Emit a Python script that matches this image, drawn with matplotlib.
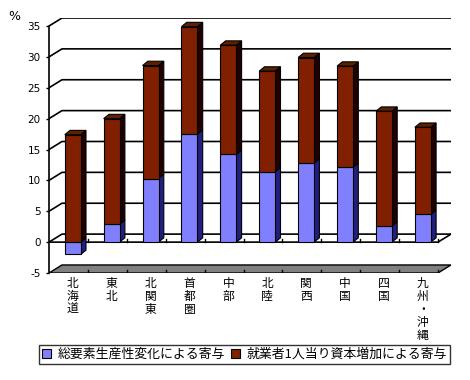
import numpy as np
import matplotlib.pyplot as plt
from matplotlib.patches import Polygon, Patch

plt.rcParams['font.family'] = ['Noto Sans CJK JP', 'DejaVu Sans']

regions = ['北海道', '東北', '北関東', '首都圏', '中部', '北陸', '関西', '中国', '四国', '九州・沖縄']
tfp = [-2.0, 2.9, 10.3, 17.5, 14.2, 11.4, 12.8, 12.1, 2.6, 4.5]
capital = [17.4, 17.1, 18.3, 17.4, 17.7, 16.3, 17.1, 16.4, 18.6, 14.1]
yticks = [-5, 0, 5, 10, 15, 20, 25, 30, 35]
labels = ['総要素生産性変化による寄与', '就業者1人当り資本増加による寄与']

blue, blue_side = '#8080ff', '#202080'
red, red_side, red_top = '#802000', '#200000', '#602000'

n = len(regions)
ddx, ddy = 0.334, 1.30    # wall depth (data units)
bdx, bdy = 0.136, 0.7     # bar depth
w = 0.41
shift = 0.11              # bars sit a little behind the front plane

fig = plt.figure(figsize=(4.7, 3.8), dpi=100)
ax = fig.add_axes([49 / 470, 107 / 380, 402 / 470, 255 / 380])
ax.set_xlim(0, n + ddx)
ax.set_ylim(-5, 35 + ddy)
for s in ['top', 'right', 'bottom']:
    ax.spines[s].set_visible(False)
ax.spines['left'].set_bounds(-5, 35)
ax.spines['left'].set_linewidth(1.2)
ax.set_xticks([])
ax.set_yticks(yticks)
ax.set_yticklabels([str(v) for v in yticks], family='DejaVu Sans', fontsize=7.5)
ax.tick_params(axis='y', length=2, width=1, pad=4)

# gridlines on left wall and back wall
for v in yticks[1:]:
    ax.plot([0, ddx, n + ddx], [v, v + ddy, v + ddy], color='black', lw=1.2, zorder=1)

# floor
floor = Polygon([(0, -5), (n, -5), (n + ddx, -5 + ddy), (ddx, -5 + ddy)],
                closed=True, facecolor='#808080', edgecolor='black', lw=1, zorder=1)
ax.add_patch(floor)
# front zero line with category ticks
ax.plot([0, n, n + ddx], [0, 0, ddy], color='black', lw=1.2, zorder=2)
for i in range(1, n + 1):
    ax.plot([i, i], [0, 0.5], color='black', lw=1, zorder=2)
    ax.plot([i, i], [-5, -4.5], color='black', lw=1, zorder=2)


def segment(x, bottom, top, face, side, topc):
    ax.bar(x, top - bottom, bottom=bottom, width=w, color=face, edgecolor='black', lw=0.8, zorder=5)
    r = x + w / 2
    ax.add_patch(Polygon([(r, bottom), (r + bdx, bottom + bdy), (r + bdx, top + bdy), (r, top)],
                         closed=True, facecolor=side, edgecolor='black', lw=0.8, zorder=4))
    if topc is not None:
        l = x - w / 2
        ax.add_patch(Polygon([(l, top), (r, top), (r + bdx, top + bdy), (l + bdx, top + bdy)],
                             closed=True, facecolor=topc, edgecolor='black', lw=0.8, zorder=4))


for i in range(n):
    x = i + 0.5 + shift
    if tfp[i] < 0:
        segment(x, tfp[i], 0, blue, blue_side, None)
        segment(x, 0, capital[i], red, red_side, red_top)
    else:
        segment(x, 0, tfp[i], blue, blue_side, None)
        segment(x, tfp[i], tfp[i] + capital[i], red, red_side, red_top)
    ax.annotate('\n'.join(regions[i]), xy=(x, -5), xytext=(0, -3), textcoords='offset points',
                ha='center', va='top', fontsize=8.5, linespacing=1.0, annotation_clip=False)

fig.text(14 / 470, 1 - 17 / 380, '%', fontsize=9, ha='center', va='center', family='DejaVu Sans')

handles = [Patch(facecolor=blue, edgecolor='black', lw=0.8),
           Patch(facecolor=red, edgecolor='black', lw=0.8)]
leg = fig.legend(handles, labels, loc='center', bbox_to_anchor=(244.5 / 470, 1 - 354.5 / 380),
                 ncol=2, fontsize=9.3, frameon=True, fancybox=False, edgecolor='black',
                 handlelength=0.7, handleheight=0.7, handletextpad=0.5, columnspacing=0.5,
                 borderpad=0.2, borderaxespad=0)
leg.get_frame().set_linewidth(1)

fig.savefig('out.png', dpi=100)
